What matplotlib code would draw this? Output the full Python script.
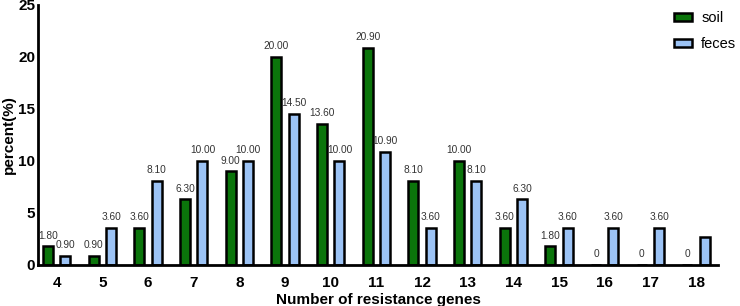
import matplotlib
matplotlib.use("Agg")
import matplotlib.pyplot as plt
import numpy as np

categories = [4, 5, 6, 7, 8, 9, 10, 11, 12, 13, 14, 15, 16, 17, 18]
soil = [1.8, 0.9, 3.6, 6.3, 9.0, 20.0, 13.6, 20.9, 8.1, 10.0, 3.6, 1.8, 0, 0, 0]
feces = [0.9, 3.6, 8.1, 10.0, 10.0, 14.5, 10.0, 10.9, 3.6, 8.1, 6.3, 3.6, 3.6, 3.6, 2.7]
feces_labels = ["0.90", "3.60", "8.10", "10.00", "10.00", "14.50", "10.00", "10.90",
                "3.60", "8.10", "6.30", "3.60", "3.60", "3.60", ""]
soil_labels = ["1.80", "0.90", "3.60", "6.30", "9.00", "20.00", "13.60", "20.90",
               "8.10", "10.00", "3.60", "1.80", "0", "0", "0"]

plt.rcParams['font.family'] = ['Liberation Sans', 'DejaVu Sans']
fig = plt.figure(figsize=(7.4, 3.06), dpi=100)
ax = fig.add_axes([38/740, 1-265/306, (718-38)/740, (265-5)/306])

x = np.array(categories, dtype=float)
w = 0.22
off = 0.19
ax.bar(x - off, soil, w, color='#0b750b', edgecolor='black', linewidth=1.8, label='soil')
ax.bar(x + off, feces, w, color='#9cc3f5', edgecolor='black', linewidth=1.8, label='feces')

for xi, v, t in zip(x - off, soil, soil_labels):
    if t:
        ax.text(xi, v + 0.55, t, ha='center', va='bottom', fontsize=7.3, color='#333333')
for xi, v, t in zip(x + off, feces, feces_labels):
    if t:
        ax.text(xi, v + 0.55, t, ha='center', va='bottom', fontsize=7.3, color='#333333')

ax.set_xlim(3.59, 18.48)
ax.set_ylim(0, 25)
ax.set_xticks(categories)
ax.set_xticklabels([str(c) for c in categories], fontsize=11, fontweight='bold')
ax.set_yticks([0, 5, 10, 15, 20, 25])
ax.set_yticklabels(['0', '5', '10', '15', '20', '25'], fontsize=11, fontweight='bold')
ax.tick_params(axis='x', length=0, pad=8)
ax.tick_params(axis='y', length=0, pad=2)
for s in ['top', 'right']:
    ax.spines[s].set_visible(False)
for s in ['left', 'bottom']:
    ax.spines[s].set_linewidth(2)
ax.set_xlabel('Number of resistance genes', fontsize=11, fontweight='bold', labelpad=2)
ax.set_ylabel('percent(%)', fontsize=11, fontweight='bold', labelpad=2)

ax.legend(loc='upper right', bbox_to_anchor=(1.042, 1.015), frameon=False, fontsize=10.5,
          handlelength=1.3, handleheight=0.5, labelspacing=0.8, handletextpad=0.6,
          borderaxespad=0.3)

fig.savefig('out.png', dpi=100)
